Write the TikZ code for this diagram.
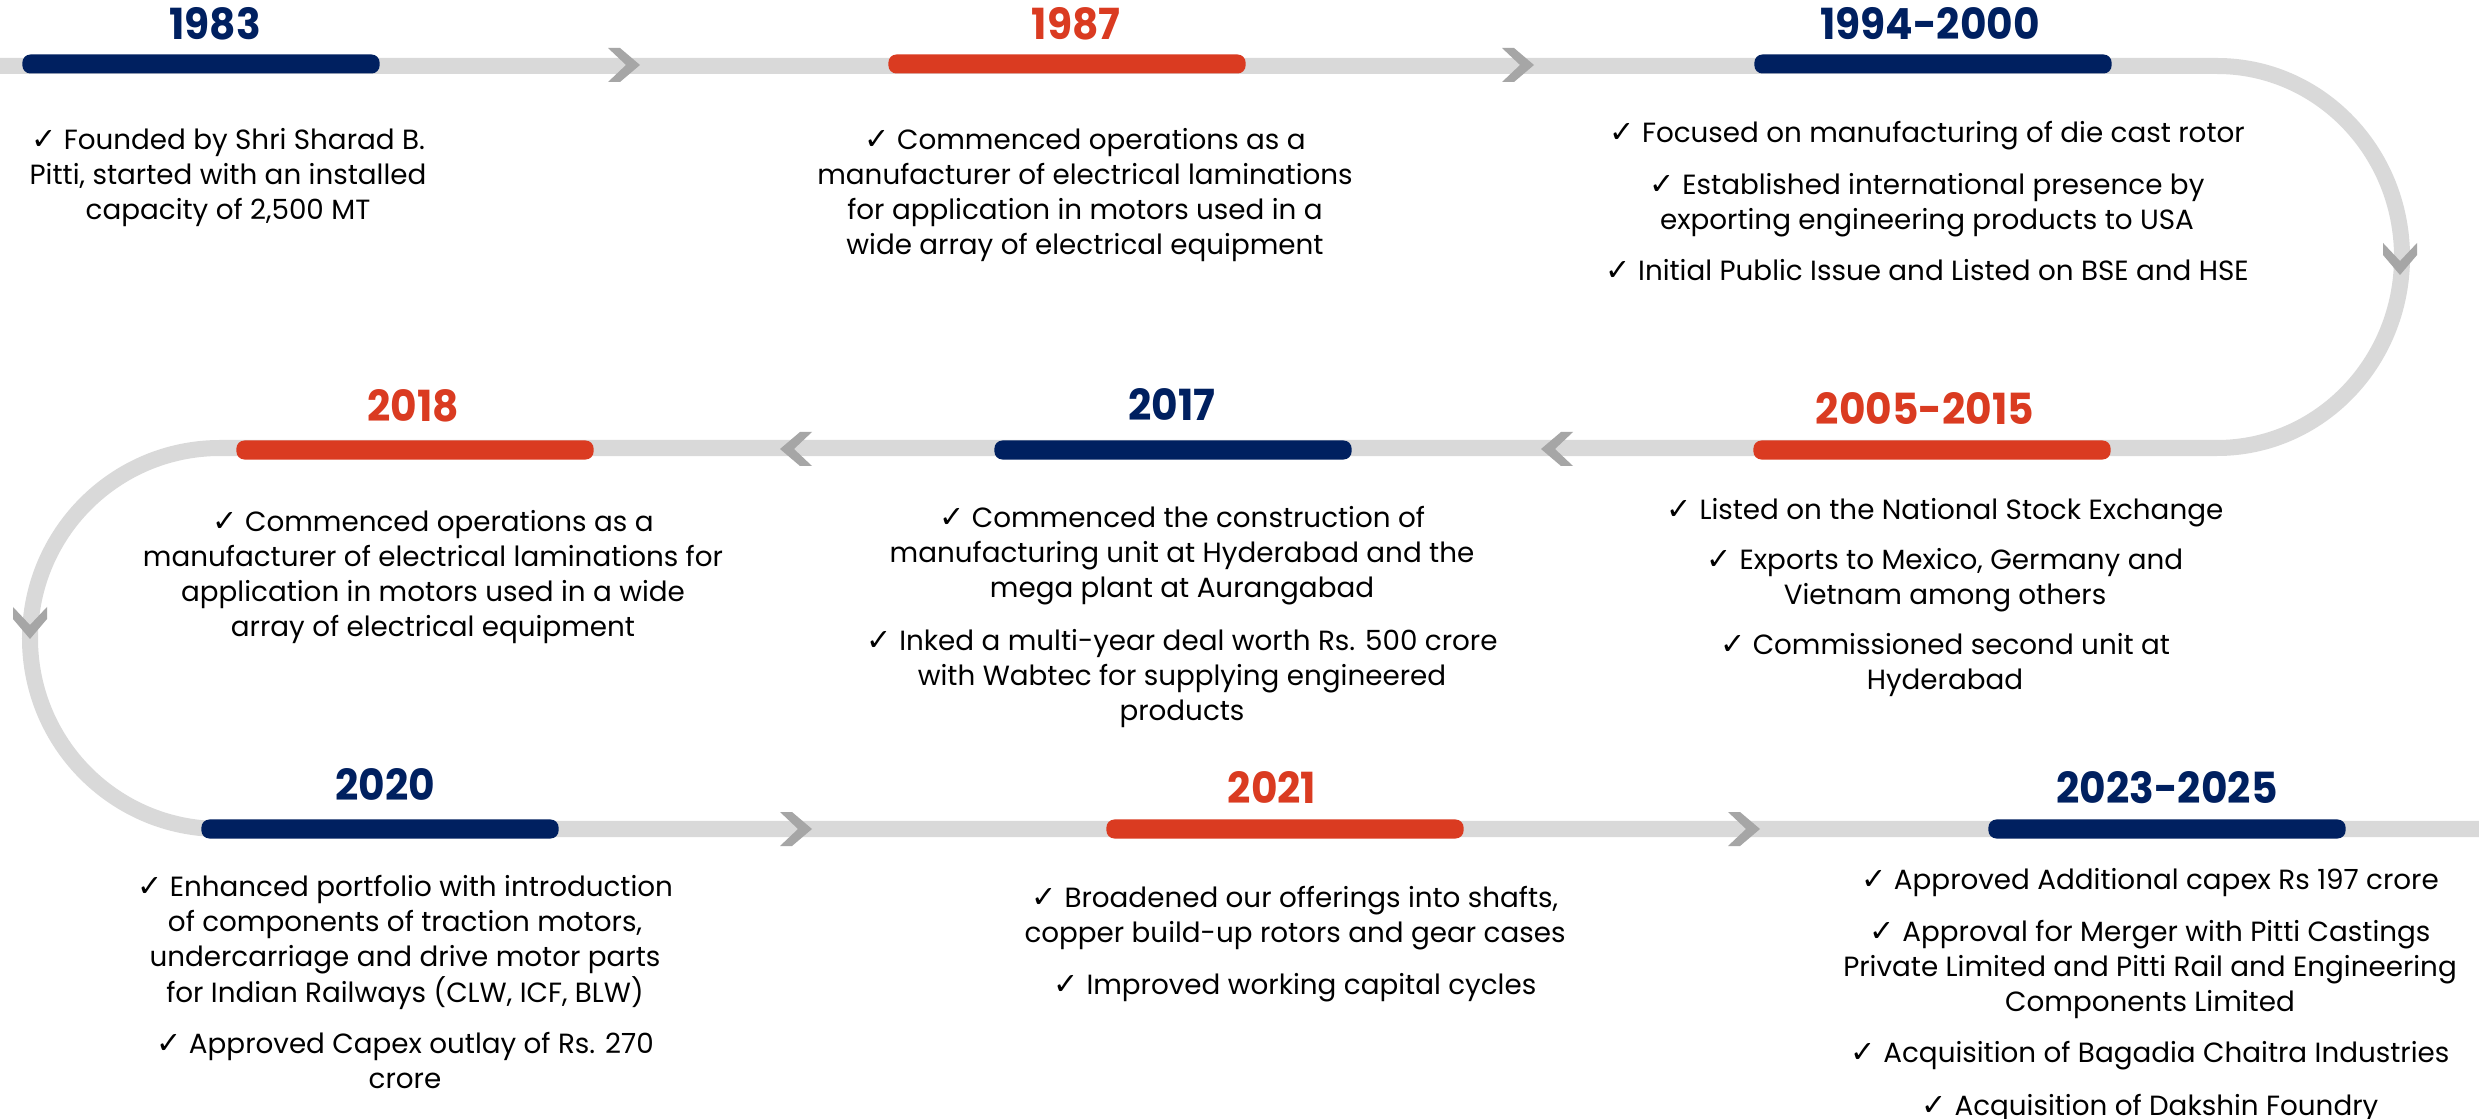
\documentclass[tikz,border=0pt]{standalone}
\usepackage{fontspec}
\setmainfont{Poppins}
\newfontfamily\yearfont{Poppins}[FakeStretch=0.95]
\newfontfamily\ckfont{DejaVu Sans}
\newcommand{\ck}{{\ckfont\fontsize{8.6pt}{9.96pt}\selectfont ✓}\ }
\definecolor{navy}{HTML}{002060}
\definecolor{redo}{HTML}{DA3B21}
\definecolor{trackgrey}{HTML}{D9D9D9}
\definecolor{chevgrey}{HTML}{A6A6A6}
\tikzset{
  track/.style={draw=trackgrey, line width=0.16cm},
  bar/.style={fill=#1, draw=none, rounded corners=0.08cm, minimum width=3.57cm, minimum height=0.19cm, inner sep=0pt},
  yr/.style={text=#1, anchor=base, inner sep=0pt, font=\yearfont\bfseries\fontsize{12.2pt}{14pt}\selectfont},
  txt/.style={anchor=north, align=center, inner sep=0pt, font=\fontsize{7.9pt}{9.96pt}\selectfont},
  chevR/.pic={\fill[chevgrey] (-16,-17) -- (-4,-17) -- (16,0) -- (-4,17) -- (-16,17) -- (2,0) -- cycle;}
}
\begin{document}
\begin{tikzpicture}[x=0.01cm,y=0.01cm]
\useasboundingbox (0,0) rectangle (2479,-1119);
\fill[white] (0,0) rectangle (2479,-1119);
% track
\draw[track] (0,-66) -- (2217,-66) arc[start angle=90,end angle=-90,x radius=185,y radius=191]
  -- (220,-448) arc[start angle=90,end angle=270,x radius=190,y radius=190.5] -- (2479,-829);
% chevrons
\pic at (624,-65) {chevR};
\pic at (1518,-65) {chevR};
\pic[rotate=-90] at (2400,-259) {chevR};
\pic[xscale=-1] at (796,-449) {chevR};
\pic[xscale=-1] at (1557,-449) {chevR};
\pic[rotate=-90] at (30,-623) {chevR};
\pic at (796,-829) {chevR};
\pic at (1744,-829) {chevR};
% bars
\node[bar=navy] (b1983) at (201,-64) {};
\node[bar=redo] (b1987) at (1067,-64) {};
\node[bar=navy] (b1994) at (1933,-64) {};
\node[bar=redo] (b2018) at (415,-450) {};
\node[bar=navy] (b2017) at (1173,-450) {};
\node[bar=redo] (b2005) at (1932,-450) {};
\node[bar=navy] (b2020) at (380,-829) {};
\node[bar=redo] (b2021) at (1285,-829) {};
\node[bar=navy] (b2023) at (2167,-829) {};
% years
\node[yr=navy] (y1983) at (215,-40) {1983};
\node[yr=redo] (y1987) at (1076,-40) {1987};
\node[yr=navy] (y1994) at (1930,-40) {1994-2000};
\node[yr=redo] (y2018) at (413,-422) {2018};
\node[yr=navy] (y2017) at (1172,-421) {2017};
\node[yr=redo] (y2005) at (1925,-425) {2005-2015};
\node[yr=navy] (y2020) at (385,-800) {2020};
\node[yr=redo] (y2021) at (1272,-803) {2021};
\node[yr=navy] (y2023) at (2167,-803) {2023-2025};
% texts
\node[txt] (t1983) at (228,-128) {\ck Founded by Shri Sharad B.\\ Pitti, started with an installed\\ capacity of 2,500 MT};
\node[txt] (t1987) at (1085,-128) {\ck Commenced operations as a\\ manufacturer of electrical laminations\\ for application in motors used in a\\ wide array of electrical equipment};
\node[txt] (t1994) at (1927,-121) {\ck Focused on manufacturing of die cast rotor\\[0.17cm] \ck Established international presence by\\ exporting engineering products to USA\\[0.15cm] \ck Initial Public Issue and Listed on BSE and HSE};
\node[txt] (t2018) at (433,-510) {\ck Commenced operations as a\\ manufacturer of electrical laminations for\\ application in motors used in a wide\\ array of electrical equipment};
\node[txt] (t2017) at (1182,-506) {\ck Commenced the construction of\\ manufacturing unit at Hyderabad and the\\ mega plant at Aurangabad\\[0.17cm] \ck Inked a multi-year deal worth Rs. 500 crore\\ with Wabtec for supplying engineered\\ products};
\node[txt] (t2005) at (1945,-498) {\ck Listed on the National Stock Exchange\\[0.15cm] \ck Exports to Mexico, Germany and\\ Vietnam among others\\[0.15cm] \ck Commissioned second unit at\\ Hyderabad};
\node[txt] (t2020) at (405,-875) {\ck Enhanced portfolio with introduction\\ of components of traction motors,\\ undercarriage and drive motor parts\\ for Indian Railways (CLW, ICF, BLW)\\[0.16cm] \ck Approved Capex outlay of Rs. 270\\ crore};
\node[txt] (t2021) at (1295,-886) {\ck Broadened our offerings into shafts,\\ copper build-up rotors and gear cases\\[0.17cm] \ck Improved working capital cycles};
\node[txt] (t2023) at (2150,-868) {\ck Approved Additional capex Rs 197 crore\\[0.17cm] \ck Approval for Merger with Pitti Castings\\ Private Limited and Pitti Rail and Engineering\\ Components Limited\\[0.16cm] \ck Acquisition of Bagadia Chaitra Industries\\[0.17cm] \ck Acquisition of Dakshin Foundry};
\end{tikzpicture}
\end{document}
